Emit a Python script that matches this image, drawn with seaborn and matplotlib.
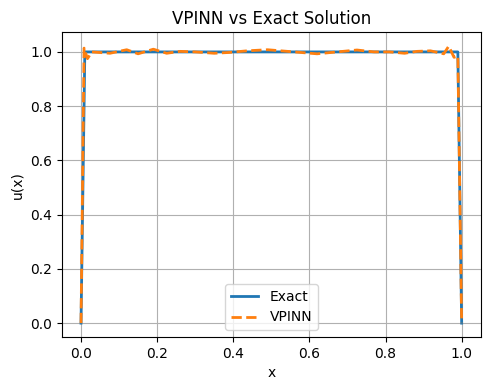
import matplotlib
matplotlib.use("Agg")
from matplotlib import pyplot as plt
import seaborn as sns

# exact solution (flat top, zero at the boundaries)
x_exact = [0.0, 0.01, 0.99, 1.0]
u_exact = [0.0, 1.0, 1.0, 0.0]

# VPINN prediction
x_vpinn = [0.0, 0.008, 0.017, 0.028, 0.076, 0.12, 0.15, 0.19, 0.225, 0.26,
           0.30, 0.35, 0.39, 0.436, 0.49, 0.56, 0.62, 0.673, 0.725, 0.77,
           0.81, 0.85, 0.883, 0.918, 0.953, 0.966, 0.98, 0.99, 1.0]
u_vpinn = [0.0, 1.014, 0.975, 1.0, 0.995, 1.008, 0.993, 1.01, 0.995, 1.002,
           1.0, 0.995, 0.998, 1.004, 1.008, 1.0, 0.993, 1.0, 1.007, 1.0,
           1.0, 0.995, 1.002, 1.004, 0.993, 1.021, 0.98, 0.985, 0.0]

fig, ax = plt.subplots(figsize=(4.9, 3.9), dpi=100)
sns.lineplot(x=x_exact, y=u_exact, ax=ax, label="Exact", color="C0",
             linewidth=2, sort=False)
sns.lineplot(x=x_vpinn, y=u_vpinn, ax=ax, label="VPINN", color="C1",
             linewidth=2, linestyle="--", sort=False)
ax.set_xlabel("x")
ax.set_ylabel("u(x)")
ax.set_title("VPINN vs Exact Solution")
ax.grid(True)
ax.legend(loc="lower center")
plt.subplots_adjust(left=0.1265, right=0.981, top=0.917, bottom=0.136)
plt.savefig("out.png", dpi=100)
